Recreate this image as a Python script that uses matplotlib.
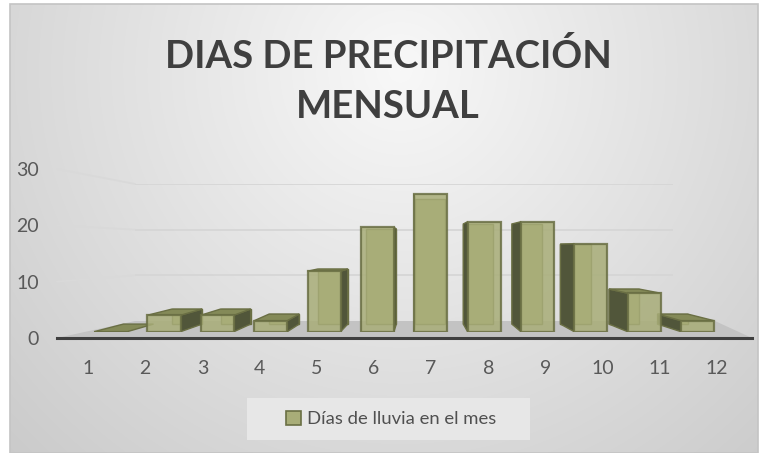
import numpy as np
import matplotlib
matplotlib.use("Agg")
import matplotlib.pyplot as plt
from matplotlib.patches import Polygon, Rectangle, Patch
from matplotlib.patches import ConnectionPatch

# ---------------- data ----------------
months = [1, 2, 3, 4, 5, 6, 7, 8, 9, 10, 11, 12]
rain_days = [0, 3, 3, 2, 11, 19, 25, 20, 20, 16, 7, 2]
y_ticks = [0, 10, 20, 30]
title_text = "DIAS DE PRECIPITACIÓN\nMENSUAL"
series_label = "Días de lluvia en el mes"

# ---------------- style ----------------
W, H = 764, 453
plt.rcParams['font.family'] = ['Lato', 'DejaVu Sans']
FRONT = '#a8ad78'
TOP = '#848a58'
SIDE = '#51563a'
EDGE = '#6a6f44'
TXT = '#595959'

def fx(px):
    return px / W

def fy(py):
    return 1 - py / H

def rect(x0, y0, x1, y1):
    # pixel box (top-left origin) -> figure fraction [l, b, w, h]
    return [fx(x0), fy(y1), (x1 - x0) / W, (y1 - y0) / H]

fig = plt.figure(figsize=(W / 100, H / 100), dpi=100)
fig.patch.set_facecolor('white')

# background panel with radial gradient
bg = fig.add_axes([0, 0, 1, 1], zorder=0)
bg.set_xlim(0, W)
bg.set_ylim(H, 0)
bg.axis('off')
gx, gy = np.meshgrid(np.arange(10, 758), np.arange(4, 453))
r = np.hypot(gx - 400, gy - 70)
shade = np.clip(248 - 0.083 * r, 195, 250) / 255.0
img = np.dstack([shade, shade, shade])
bg.imshow(img, extent=(10, 758, 453, 4), interpolation='bilinear', zorder=0)
bg.add_patch(Rectangle((10, 4), 748, 449, fill=False, edgecolor='#c4c4c4', lw=1.2, zorder=1))

# back wall (gridlines)
wall = fig.add_axes(rect(135, 184, 673, 321), zorder=1)
wall.set_facecolor('none')
wall.set_ylim(0, 30)
wall.set_xlim(0, 1)
for s in wall.spines.values():
    s.set_visible(False)
wall.set_xticks([])
wall.set_yticks([])
for v in y_ticks[1:]:
    wall.axhline(v, color='#d6d6d6', lw=1.3)

# front value/category axes
ax = fig.add_axes(rect(57, 169, 752, 338), zorder=2)
ax.set_facecolor('none')
ax.set_ylim(0, 30)
ax.set_xlim(0.458, 12.612)
for name, s in ax.spines.items():
    s.set_visible(name == 'bottom')
ax.spines['bottom'].set_color('#3f3f3f')
ax.spines['bottom'].set_linewidth(2.2)
ax.set_yticks(y_ticks)
ax.set_xticks(months)
ax.set_xticklabels([str(m) for m in months])
ax.tick_params(axis='y', length=0, pad=13, labelsize=14, labelcolor=TXT)
ax.tick_params(axis='x', length=0, pad=16, labelsize=14, labelcolor=TXT)

# left wall lines joining the front axis to the back wall
for v in y_ticks[1:]:
    con = ConnectionPatch(xyA=(ax.get_xlim()[0], v), coordsA=ax.transData,
                          xyB=(0, v), coordsB=wall.transData,
                          color='#d9d9d9', lw=1.3, zorder=1)
    fig.add_artist(con)

# floor
fig.canvas.draw()
p0 = ax.transAxes.transform((0, 0))
p1 = ax.transAxes.transform((1, 0))
q0 = wall.transAxes.transform((0, 0))
q1 = wall.transAxes.transform((1.078, 0))
inv = fig.transFigure.inverted()
floor_pts = inv.transform(np.array([p0, p1, q1, q0]))
floor = Polygon(floor_pts, closed=True, transform=fig.transFigure,
                facecolor='#c3c3c3', edgecolor='none', zorder=0.5)
fig.add_artist(floor)

# bars axes (front plane of the columns)
bx = fig.add_axes(rect(57, 331.7 - 30 * 5.5, 752, 331.7), zorder=3)
bx.set_facecolor('none')
bx.set_xlim(-0.0047, 13.02)
bx.set_ylim(0, 30)
bx.axis('off')

width = 0.62
k = 0.09
vx, vy = 6.80, 15.4  # vanishing point in data units

def back(x, y):
    return (x + k * (vx - x), y + k * (vy - y))

order = sorted(range(len(months)), key=lambda i: -abs(months[i] - vx))
for i in order:
    m, v = months[i], rain_days[i]
    xl, xr = m - width / 2, m + width / 2
    bl, br = back(xl, 0), back(xr, 0)
    tl, tr = back(xl, v), back(xr, v)
    # back edges visible through the translucent front
    if v > 0:
        bx.add_patch(Polygon([bl, br, tr, tl], closed=True, facecolor=FRONT,
                             edgecolor=EDGE, lw=1.0, zorder=2))
    # side face
    if m < vx and v > 0:
        bx.add_patch(Polygon([(xr, 0), (xr, v), tr, br], closed=True,
                             facecolor=SIDE, edgecolor=EDGE, lw=1.0, zorder=3))
    elif m > vx and v > 0:
        bx.add_patch(Polygon([(xl, 0), (xl, v), tl, bl], closed=True,
                             facecolor=SIDE, edgecolor=EDGE, lw=1.0, zorder=3))
    # top face
    if v < vy:
        bx.add_patch(Polygon([(xl, v), (xr, v), tr, tl], closed=True,
                             facecolor=TOP, edgecolor=EDGE, lw=1.0, zorder=4))

bars = bx.bar(months, rain_days, width=width, color=FRONT, alpha=0.85,
              edgecolor=EDGE, linewidth=1.6, zorder=5)

# title
fig.text(fx(388), fy(81), title_text, ha='center', va='center',
         fontsize=27.5, fontweight='bold', color='#3f3f3f', linespacing=1.6)

# legend
fig.add_artist(Rectangle((fx(247), fy(440)), 283 / W, 42 / H,
                         transform=fig.transFigure, facecolor='#e9e9e9',
                         edgecolor='none', alpha=0.9, zorder=4))
handle = Patch(facecolor=FRONT, edgecolor=EDGE, linewidth=1.2)
leg = fig.legend([handle], [series_label], loc='center',
                 bbox_to_anchor=(fx(391), fy(419)), frameon=False,
                 fontsize=13.3, handlelength=0.8, handleheight=0.8,
                 handletextpad=0.3, labelcolor='#505050')
leg.set_zorder(5)

fig.savefig('out.png', dpi=100)
